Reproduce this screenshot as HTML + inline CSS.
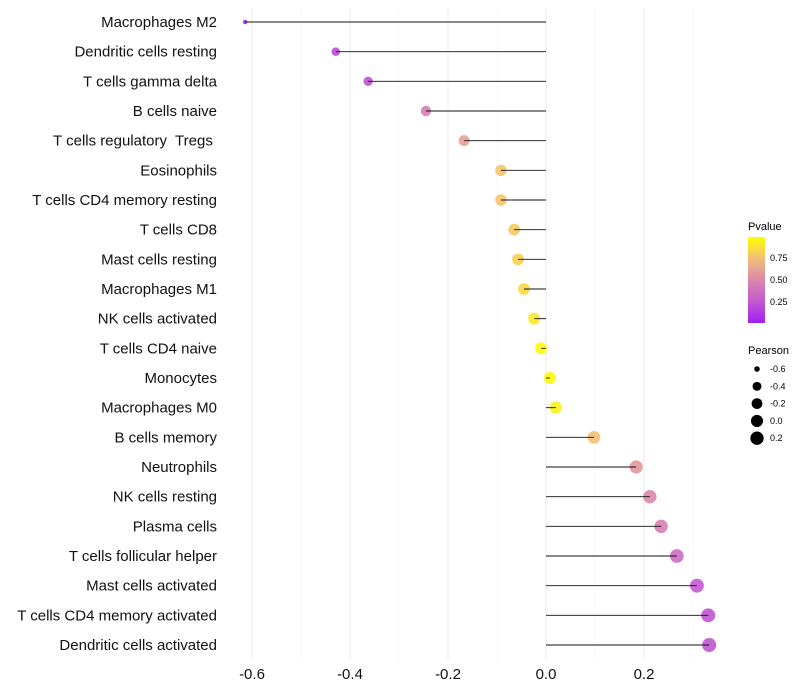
<!DOCTYPE html>
<html><head><meta charset="utf-8"><style>
body{margin:0;background:#fff;}
svg{display:block;font-family:"Liberation Sans",sans-serif;}
text{white-space:pre;}
</style></head><body>
<svg id="chart" width="800" height="700">
<defs><linearGradient id="pg" x1="0" y1="1" x2="0" y2="0">
<stop offset="0" stop-color="#a020f0"/><stop offset="0.25" stop-color="#c458d0"/>
<stop offset="0.5" stop-color="#da88ac"/><stop offset="0.75" stop-color="#f2bd78"/>
<stop offset="1" stop-color="#ffff00"/></linearGradient></defs>
<g id="grid"></g>
<g id="marks"></g>
<g id="axes"></g>
<g>
<text x="748" y="230" font-size="11">Pvalue</text>
<rect x="748" y="237" width="17" height="86" fill="url(#pg)"/>
<text x="770" y="261" font-size="9">0.75</text>
<text x="770" y="283" font-size="9">0.50</text>
<text x="770" y="305" font-size="9">0.25</text>
</g>
<g id="sizeleg">
<text x="748" y="354" font-size="11">Pearson</text>
</g>
</svg>
<script>
const categories=["Macrophages M2","Dendritic cells resting","T cells gamma delta","B cells naive","T cells regulatory  Tregs ","Eosinophils","T cells CD4 memory resting","T cells CD8","Mast cells resting","Macrophages M1","NK cells activated","T cells CD4 naive","Monocytes","Macrophages M0","B cells memory","Neutrophils","NK cells resting","Plasma cells","T cells follicular helper","Mast cells activated","T cells CD4 memory activated","Dendritic cells activated"];
const pearson=[-0.614,-0.429,-0.363,-0.245,-0.167,-0.092,-0.092,-0.065,-0.057,-0.045,-0.024,-0.010,0.008,0.020,0.098,0.184,0.212,0.235,0.267,0.308,0.331,0.333];
const pvalue=[0.02,0.2,0.22,0.45,0.62,0.78,0.78,0.8,0.83,0.86,0.92,0.98,0.99,0.95,0.76,0.57,0.5,0.46,0.35,0.26,0.23,0.23];
const xTicks=[-0.6,-0.4,-0.2,0.0,0.2];
const xTickLabels=["-0.6","-0.4","-0.2","0.0","0.2"];
const sizeLegendValues=[-0.6,-0.4,-0.2,0.0,0.2];
const sizeLegendLabels=["-0.6","-0.4","-0.2","0.0","0.2"];
const NS="http://www.w3.org/2000/svg";
const X=v=>546+v*490;
const Y=i=>22+i*(623/21);
const R=v=>2.2+4.8*Math.sqrt(Math.max(0,(v+0.614)/0.947));
const stops=[[160,32,240],[196,88,208],[218,136,172],[242,189,120],[255,255,0]];
function col(p){p=Math.max(0,Math.min(1,p));const t=p*4,i=Math.min(3,Math.floor(t)),f=t-i;const a=stops[i],b=stops[i+1];return `rgb(${a.map((c,k)=>Math.round(c+(b[k]-c)*f)).join(",")})`;}
function mk(tag,at,parent){const e=document.createElementNS(NS,tag);for(const k in at)e.setAttribute(k,at[k]);parent.appendChild(e);return e;}
const grid=document.getElementById('grid'),marks=document.getElementById('marks'),axes=document.getElementById('axes');
for(let v=-0.7;v<=0.31;v+=0.1){const x=X(v);if(x<232)continue;const major=Math.abs(Math.round(v*10))%2===0;
const g=mk('line',{x1:x,x2:x,y1:8,y2:660,stroke:major?'#ebebeb':'#f4f4f4','stroke-width':major?1:0.6},grid);

}
categories.forEach((c,i)=>{
const t=mk('text',{x:217,y:Y(i)+5,'font-size':15,'text-anchor':'end',fill:'#111'},axes);t.textContent=c;


const d=mk('circle',{cx:X(pearson[i]),cy:Y(i),r:R(pearson[i]),fill:col(pvalue[i]),'fill-opacity':0.9},marks);


const l=mk('line',{x1:X(0),x2:X(pearson[i]),y1:Y(i),y2:Y(i),stroke:'#111','stroke-width':0.9},marks);


});
xTicks.forEach((v,i)=>{const t=mk('text',{x:X(v),y:679,'font-size':15,'text-anchor':'middle',fill:'#111'},axes);t.textContent=xTickLabels[i];

});
const sl=document.getElementById('sizeleg');
sizeLegendValues.forEach((v,i)=>{const y=369+i*17.3;
const c=mk('circle',{cx:757,cy:y,r:R(v),fill:'#000'},sl);


const t=mk('text',{x:770,y:y+3,'font-size':9},sl);t.textContent=sizeLegendLabels[i];

});
</script>
</body></html>
